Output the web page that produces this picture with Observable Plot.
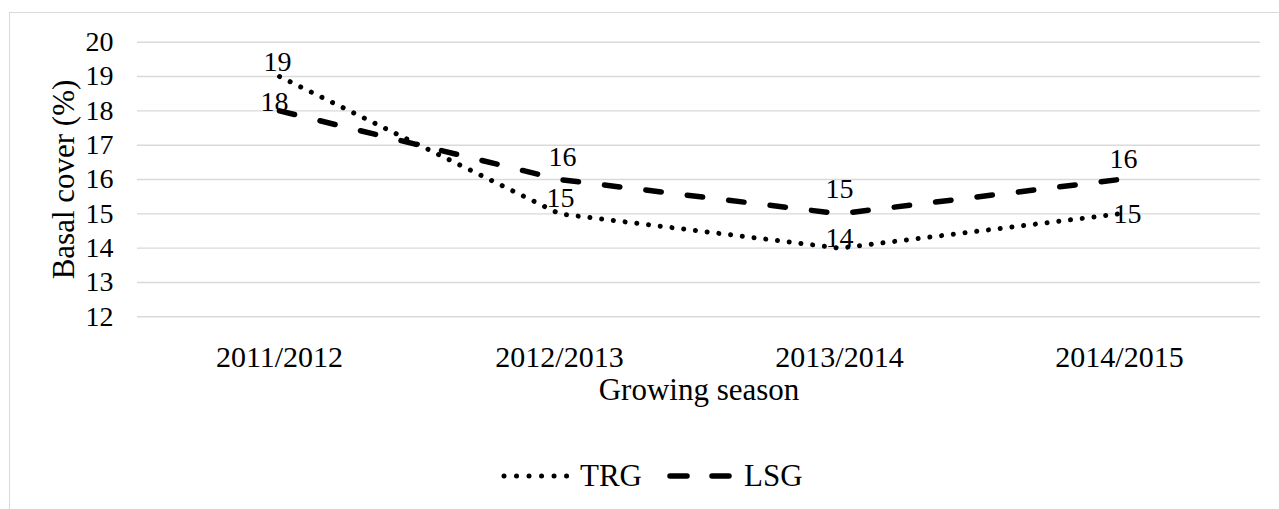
<!DOCTYPE html>
<html>
<head>
<meta charset="utf-8">
<script src="https://cdn.jsdelivr.net/npm/d3@7"></script>
<script src="https://cdn.jsdelivr.net/npm/@observablehq/plot@0.6"></script>
<style>
  html, body { margin: 0; padding: 0; background: #fff; overflow: hidden; width: 1279px; height: 509px; }
  #wrap { position: relative; width: 1279px; height: 509px; font-family: "Liberation Serif", "Times New Roman", serif; }
  #border { position: absolute; left: 9px; top: 12px; width: 1400px; height: 700px; border-left: 1.5px solid #d9d9d9; border-top: 1.5px solid #d9d9d9; box-sizing: border-box; }
  #chart { position: absolute; left: 0; top: 0; }
  #chart svg, #chart svg text { font-family: "Liberation Serif", "Times New Roman", serif !important; }
  #legend { position: absolute; left: 500px; top: 458px; height: 36px; display: flex; align-items: center; font-size: 31px; color: #000; white-space: nowrap; }
  #legend svg { display: block; }
</style>
</head>
<body>
<div id="wrap">
  <div id="border"></div>
  <div id="chart"></div>
  <div id="legend"></div>
</div>
<script>
// ---- data ----
const categories = ["2011/2012", "2012/2013", "2013/2014", "2014/2015"];
const trgValues = [19, 15, 14, 15];
const lsgValues = [18, 16, 15, 16];
const yTicks = [12, 13, 14, 15, 16, 17, 18, 19, 20];
const seriesNames = ["TRG", "LSG"];
const xTitle = "Growing season";
const yTitle = "Basal cover (%)";

// ---- build table ----
const trg = categories.map((c, i) => ({season: c, value: trgValues[i], series: "TRG", i}));
const lsg = categories.map((c, i) => ({season: c, value: lsgValues[i], series: "LSG", i}));

const FONT = "Liberation Serif";

// label nudges (pixels), styling only
const trgDy = [-14, -16, -10, 0], trgDx = [-2, 1, 0, 8];
const lsgDy = [-9, -22, -25, -20], lsgDx = [-5, 3, 0, 4];

const dotStyle = {stroke: "#000", strokeWidth: 5, strokeDasharray: "0.01 11.8", strokeLinecap: "round"};
const dashStyle = {stroke: "#000", strokeWidth: 5.5, strokeDasharray: "15.5 26.2", strokeLinecap: "round"};

const labelMarks = [];
trg.forEach((d, k) => labelMarks.push(Plot.text([d], {x: "season", y: "value", text: d => String(d.value), dy: trgDy[k], dx: trgDx[k], fontSize: 28, fontFamily: FONT, fill: "#000"})));
lsg.forEach((d, k) => labelMarks.push(Plot.text([d], {x: "season", y: "value", text: d => String(d.value), dy: lsgDy[k], dx: lsgDx[k], fontSize: 28, fontFamily: FONT, fill: "#000"})));

const chart = Plot.plot({
  width: 1279,
  height: 440,
  marginLeft: 137,
  marginRight: 19,
  marginTop: 41.7,
  marginBottom: 440 - 316.3,
  style: {fontFamily: FONT, fontSize: "28px", color: "#000", background: "transparent", overflow: "visible"},
  x: {type: "point", domain: categories, padding: 0.5, label: null},
  y: {domain: [12, 20], ticks: yTicks, label: null},
  marks: [
    Plot.gridY(yTicks, {stroke: "#d9d9d9", strokeOpacity: 1, strokeWidth: 1.4}),
    Plot.axisY(yTicks, {tickSize: 0, tickPadding: 24, fontSize: 28, fontFamily: FONT, label: null, tickFormat: d => String(d)}),
    Plot.axisX({tickSize: 0, tickPadding: 29, fontSize: 30, fontFamily: FONT, label: null}),
    Plot.text([xTitle], {frameAnchor: "bottom", dy: 83, fontSize: 31, fontFamily: FONT, fill: "#000"}),
    Plot.text([yTitle], {frameAnchor: "left", textAnchor: "middle", dx: -73, rotate: -90, fontSize: 31, fontFamily: FONT, fill: "#000"}),
    Plot.line(trg, {x: "season", y: "value", ...dotStyle}),
    Plot.line(lsg, {x: "season", y: "value", ...dashStyle}),
    ...labelMarks
  ]
});
document.getElementById("chart").appendChild(chart);

// ---- legend (HTML below the svg) ----
const legend = document.getElementById("legend");
function sample(style, w) {
  const ns = "http://www.w3.org/2000/svg";
  const s = document.createElementNS(ns, "svg");
  s.setAttribute("width", w); s.setAttribute("height", 20);
  const l = document.createElementNS(ns, "line");
  l.setAttribute("x1", 4); l.setAttribute("x2", w - 4);
  l.setAttribute("y1", 10); l.setAttribute("y2", 10);
  l.setAttribute("stroke", style.stroke);
  l.setAttribute("stroke-width", style.strokeWidth);
  l.setAttribute("stroke-dasharray", style.strokeDasharray);
  l.setAttribute("stroke-linecap", style.strokeLinecap);
  s.appendChild(l);
  return s;
}
const styles = {TRG: {...dotStyle, strokeDasharray: "0.01 12.5"}, LSG: {...dashStyle, strokeDasharray: "17 25"}};
seriesNames.forEach((name, k) => {
  const item = document.createElement("div");
  item.style.display = "flex"; item.style.alignItems = "center";
  if (k > 0) item.style.marginLeft = "24px";
  item.appendChild(sample(styles[name], name === "TRG" ? 74 : 72));
  const t = document.createElement("span");
  t.textContent = name; t.style.marginLeft = "6px";
  item.appendChild(t);
  legend.appendChild(item);
});
</script>
</body>
</html>
